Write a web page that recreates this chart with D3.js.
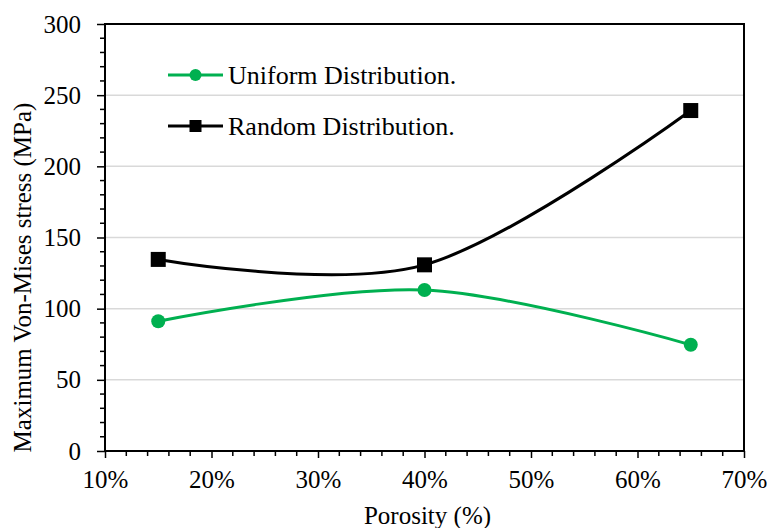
<!DOCTYPE html>
<html>
<head>
<meta charset="utf-8">
<script src="https://cdn.jsdelivr.net/npm/d3@7"></script>
<style>
  html, body { margin: 0; padding: 0; background: #fff; }
</style>
</head>
<body>
<svg id="chart" width="767" height="528"></svg>
<script>
// Porosity levels (fraction) and peak stress for each distribution
const porosity = [0.15, 0.40, 0.65];
const uniformStress = [91.2, 113.1, 74.6];
const randomStress = [134.6, 130.8, 239.2];

const xTicks = [0.1, 0.2, 0.3, 0.4, 0.5, 0.6, 0.7];
const yTicks = [0, 50, 100, 150, 200, 250, 300];

const seriesNames = ["Uniform Distribution.", "Random Distribution."];
const seriesColors = ["#00B050", "#000000"];

const FONT = "Liberation Serif, DejaVu Serif, serif";

const svg = d3.select("#chart");
const L = 105, R = 744, T = 24, B = 451;

const x = d3.scaleLinear().domain([0.1, 0.7]).range([L, R]);
const y = d3.scaleLinear().domain([0, 300]).range([B, T]);

// horizontal gridlines
svg.append("g").selectAll("line")
  .data(yTicks.filter(d => d > 0 && d < 300))
  .join("line")
  .attr("x1", L).attr("x2", R)
  .attr("y1", d => y(d)).attr("y2", d => y(d))
  .attr("stroke", "#d9d9d9").attr("stroke-width", 1.5);

// minor ticks
const yMinor = d3.range(0, 301, 10).filter(v => v % 50 !== 0);
svg.append("g").selectAll("line").data(yMinor).join("line")
  .attr("x1", L - 5).attr("x2", L)
  .attr("y1", d => y(d)).attr("y2", d => y(d))
  .attr("stroke", "#000").attr("stroke-width", 1.5);
const xMinor = d3.range(10, 71, 2).filter(v => v % 10 !== 0).map(v => v / 100);
svg.append("g").selectAll("line").data(xMinor).join("line")
  .attr("x1", d => x(d)).attr("x2", d => x(d))
  .attr("y1", B).attr("y2", B + 5)
  .attr("stroke", "#000").attr("stroke-width", 1.5);

// axes
const yAxis = svg.append("g").attr("transform", `translate(${L},0)`)
  .call(d3.axisLeft(y).tickValues(yTicks).tickSize(8).tickPadding(16).tickFormat(d3.format("d")));
const xAxis = svg.append("g").attr("transform", `translate(0,${B})`)
  .call(d3.axisBottom(x).tickValues(xTicks).tickSize(7).tickPadding(12).tickFormat(d3.format(".0%")));
[yAxis, xAxis].forEach(g => {
  g.attr("font-family", FONT).attr("font-size", 25);
  g.select(".domain").remove();
  g.selectAll(".tick line").attr("stroke", "#000").attr("stroke-width", 1.5);
  g.selectAll(".tick text").attr("fill", "#000");
});

// plot frame
svg.append("rect")
  .attr("x", L).attr("y", T).attr("width", R - L).attr("height", B - T)
  .attr("fill", "none").attr("stroke", "#000").attr("stroke-width", 2);

// smoothed series lines
const line = d3.line()
  .x(d => x(d[0])).y(d => y(d[1]))
  .curve(d3.curveCardinal.tension(0));

const series = [uniformStress, randomStress];
series.forEach((vals, i) => {
  const pts = porosity.map((p, j) => [p, vals[j]]);
  svg.append("path").datum(pts)
    .attr("d", line)
    .attr("fill", "none")
    .attr("stroke", seriesColors[i])
    .attr("stroke-width", 3);
});

// markers
svg.append("g").selectAll("circle")
  .data(porosity.map((p, j) => [p, uniformStress[j]]))
  .join("circle")
  .attr("cx", d => x(d[0])).attr("cy", d => y(d[1]))
  .attr("r", 7).attr("fill", seriesColors[0]);
const sq = 15;
svg.append("g").selectAll("rect")
  .data(porosity.map((p, j) => [p, randomStress[j]]))
  .join("rect")
  .attr("x", d => x(d[0]) - sq / 2).attr("y", d => y(d[1]) - sq / 2)
  .attr("width", sq).attr("height", sq).attr("fill", seriesColors[1]);

// legend
const legendY = [75, 126];
seriesNames.forEach((name, i) => {
  const g = svg.append("g").attr("transform", `translate(168,${legendY[i]})`);
  g.append("line").attr("x1", 0).attr("x2", 55).attr("y1", 0).attr("y2", 0)
    .attr("stroke", seriesColors[i]).attr("stroke-width", 3);
  if (i === 0) {
    g.append("circle").attr("cx", 27.5).attr("cy", 0).attr("r", 6).attr("fill", seriesColors[i]);
  } else {
    g.append("rect").attr("x", 21.5).attr("y", -6).attr("width", 12).attr("height", 12).attr("fill", seriesColors[i]);
  }
  g.append("text").attr("x", 60).attr("y", 0).attr("dy", "0.35em")
    .attr("font-family", FONT).attr("font-size", 26).text(name);
});

// axis titles
svg.append("text")
  .attr("x", (L + R) / 2 + 3).attr("y", 524)
  .attr("text-anchor", "middle")
  .attr("font-family", FONT).attr("font-size", 25)
  .text("Porosity (%)");
svg.append("text")
  .attr("transform", `translate(31,${(T + B) / 2 + 40}) rotate(-90)`)
  .attr("text-anchor", "middle")
  .attr("font-family", FONT).attr("font-size", 25)
  .text("Maximum  Von-Mises stress (MPa)");
</script>
</body>
</html>
